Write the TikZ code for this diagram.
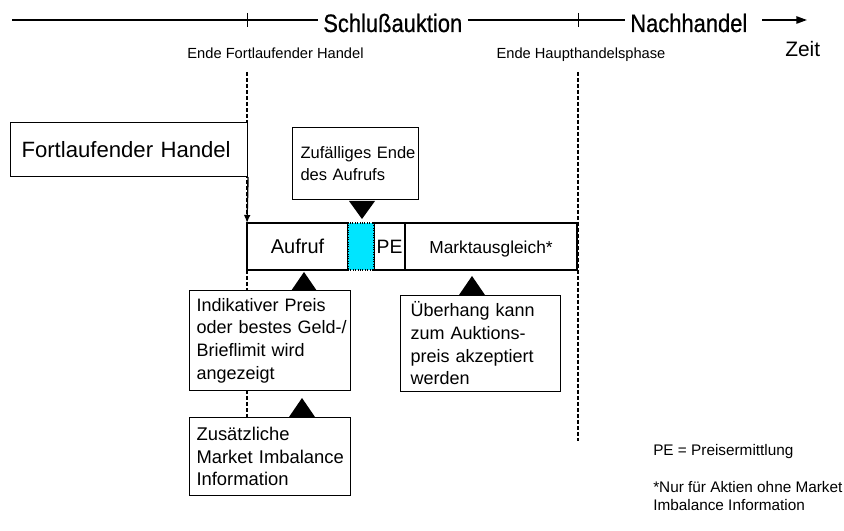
\documentclass[tikz,border=0pt]{standalone}
\usepackage{fontspec}
\setmainfont{Liberation Sans}
\newfontfamily\narrowfont[FakeStretch=0.87,FakeBold=0.6]{Liberation Sans}
\usetikzlibrary{arrows.meta}
\usetikzlibrary{positioning}
\definecolor{zcyan}{RGB}{0,229,255}
\tikzset{
  box/.style={draw, fill=white, line width=0.8pt, anchor=north west, align=left,
    font=\fontsize{13.5}{17}\selectfont},
  barbox/.style={draw, fill=white, line width=0.8pt, minimum height=35.25pt,
    outer sep=0pt, inner sep=0pt, text height=10.2pt, text depth=0pt},
  phase/.style={font=\narrowfont\fontsize{18.9}{22}\selectfont, anchor=base west,
    inner xsep=4pt, inner ysep=0pt},
  small/.style={font=\fontsize{11}{13}\selectfont, anchor=base, inner sep=0pt},
  vline/.style={line width=1.4pt, dash pattern=on 3pt off 1.5pt},
  tline/.style={line width=1.2pt}
}

\begin{document}
\begin{tikzpicture}[x=0.75pt,y=-0.75pt]
  \useasboundingbox (0,0) rectangle (844,531);
  % Zeitachse
  \node[phase] (schl) at (317.7,32) {Schlußauktion};
  \node[phase] (nach) at (624.7,32) {Nachhandel};
  \coordinate (t0) at (12,20);
  \coordinate (t1) at (807,20);
  \draw[tline] (t0) -- (t0 -| schl.west);
  \draw[tline] (schl.east |- t0) -- (nach.west |- t0);
  \draw[tline, shorten <=7pt, -{Triangle[length=8pt,width=5.5pt]}] (nach.east |- t0) -- (t1);
  \foreach \x in {247,578}
    \draw[line width=0.6pt] (\x,13) -- (\x,27);
  \node[small] (efh) at (275.5,59) {Ende Fortlaufender Handel};
  \node[small] (ehp) at (581,59) {Ende Haupthandelsphase};
  \node[font=\fontsize{15.7}{18}\selectfont, anchor=base west, inner sep=0pt] (zeit) at (785,57) {Zeit};

  % Phasengrenzen
  \draw[vline] (247,72) -- (247,417);
  \draw[vline] (578,72) -- (578,441);

  % Kaesten
  \node[box, inner xsep=8.25pt, text width=161.25pt, minimum height=40.5pt,
    font=\fontsize{16.6}{20}\selectfont] (fl) at (10,122) {Fortlaufender Handel};
  \node[box, inner xsep=6pt, text width=82.5pt, minimum height=54pt,
    font=\fontsize{12.4}{16.5}\selectfont] (zuf) at (292,127) {\mbox{Zufälliges Ende}\\des Aufrufs};
  \node[box, inner xsep=5.25pt, text width=110.25pt, minimum height=75pt]
    (ind) at (189,290) {Indikativer Preis\\\mbox{oder bestes Geld-/}\\Brieflimit wird\\angezeigt};
  \node[box, inner xsep=5.25pt, text width=110.25pt, minimum height=58.5pt,
    font=\fontsize{13.8}{17}\selectfont] (zus) at (189,417) {Zusätzliche\\\mbox{Market Imbalance}\\Information};
  \node[box, inner xsep=7.5pt, text width=105pt, minimum height=72pt]
    (ueb) at (400,295) {Überhang kann\\zum Auktions-\\preis akzeptiert\\werden};

  % Aufruf / PE / Marktausgleich
  \node[barbox, anchor=north west, minimum width=75.75pt, font=\fontsize{15}{18}\selectfont]
    (aufruf) at (247,223) {Aufruf};
  \node[barbox, right=19.5pt of aufruf, minimum width=23.25pt, font=\fontsize{14.5}{18}\selectfont]
    (pe) {PE};
  \node[barbox, right=0pt of pe, minimum width=129pt, font=\fontsize{13}{16}\selectfont]
    (markt) {Marktausgleich*};
  \node[barbox, right=0pt of aufruf, minimum width=19.5pt, fill=zcyan, densely dotted,
    line width=1.2pt] (zend) {};

  \draw[line width=1pt, -{Latex[length=6pt,width=5pt]}] (fl.south east) -- (aufruf.north west);

  % Marken
  \fill (362,219) -- (349,201) -- (375,201) -- cycle;
  \foreach \x/\y in {304/291, 302/417, 472/295}
    \fill (\x,\y) ++(-13,0) -- ++(26,0) -- ++(-13,-19) -- cycle;

  % Legende
  \node[font=\fontsize{11.5}{13.5}\selectfont, anchor=west, inner sep=0pt] (leg1) at (653,452) {PE = Preisermittlung};
  \node[font=\fontsize{11.5}{13.5}\selectfont, anchor=north west, align=left, inner sep=0pt]
    (leg2) at (653,481) {*Nur für Aktien ohne Market\\Imbalance Information};
\end{tikzpicture}
\end{document}
